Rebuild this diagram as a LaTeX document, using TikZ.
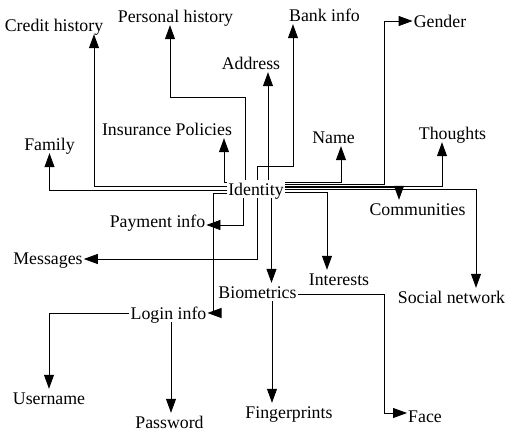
\documentclass[tikz,border=0pt]{standalone}
\usepackage{fontspec}
\setmainfont{Liberation Serif}
\usetikzlibrary{arrows.meta}
\begin{document}
\begin{tikzpicture}[x=1pt,y=-1pt,
  lbl/.style={font=\fontsize{17.8}{20}\selectfont, inner sep=1pt, text height=14pt, text depth=2pt},
  arr/.style={draw, line width=0.8pt, -{Triangle[length=14pt,width=10pt]}}]
\useasboundingbox (0,0) rectangle (512,437);
\node[lbl] (id) at (256,189) {Identity};
\node[lbl] (credit) at (54,25) {Credit history};
\node[lbl] (personal) at (175.5,16) {Personal history};
\node[lbl] (bank) at (324.5,15) {Bank info};
\node[lbl] (gender) at (440,21) {Gender};
\node[lbl] (address) at (251,63) {Address};
\node[lbl] (insurance) at (167,129) {Insurance Policies};
\node[lbl] (family) at (49.5,144) {Family};
\node[lbl] (name) at (333.5,137) {Name};
\node[lbl] (thoughts) at (452.5,133) {Thoughts};
\node[lbl] (communities) at (417.5,209) {Communities};
\node[lbl] (payment) at (157.5,221) {Payment info};
\node[lbl] (messages) at (48,258) {Messages};
\node[lbl] (interests) at (339,279) {Interests};
\node[lbl] (social) at (451.5,297) {Social network};
\node[lbl] (biometrics) at (257.5,292) {Biometrics};
\node[lbl] (login) at (168.5,313) {Login info};
\node[lbl] (username) at (49,398) {Username};
\node[lbl] (password) at (169.5,422) {Password};
\node[lbl] (fingerprints) at (289,412) {Fingerprints};
\node[lbl] (face) at (425,416) {Face};
% left side
\draw[arr] (id.west |- 0,190) -| (family.south);
\draw[arr] (id.west |- 0,186) -| ([xshift=40pt]credit.south);
\draw[arr] (id.west |- 0,182) -| ([xshift=57pt]insurance.south);
\draw[arr] (id.west |- 0,193) -| (213,313) -- (login.east);
% top side
\draw[arr] ([xshift=-11pt]id.north) |- (170,97) -- ([xshift=-5.5pt]personal.south);
\draw[arr] ([xshift=1pt]id.north) |- (293,166) -- ([xshift=-31.5pt]bank.south);
\draw[arr] ([xshift=17pt]address.south |- id.north) -- ([xshift=17pt]address.south);
% right side
\draw[arr] (id.east |- 0,182) -| ([xshift=7.5pt]name.south);
\draw[arr] (id.east |- 0,184) -| (384,21) -- (gender.west);
\draw[arr] (id.east |- 0,186) -| ([xshift=-10.5pt]thoughts.south);
\draw[arr] (id.east |- 0,187.5) -| ([xshift=-18.5pt]communities.north);
\draw[arr] (id.east |- 0,189) -| ([xshift=24.5pt]social.north);
\draw[arr] (id.east |- 0,192) -| ([xshift=-12pt]interests.north);
% bottom side
\draw[arr] ([xshift=-13pt]id.south) |- ([yshift=-4pt]payment.east);
\draw[arr] ([xshift=1pt]id.south) |- ([yshift=-1pt]messages.east);
\draw[arr] ([xshift=14pt]biometrics.north |- id.south) -- ([xshift=14pt]biometrics.north);
% biometrics
\draw[arr] ([xshift=-17pt]fingerprints.north |- biometrics.south) -- ([xshift=-17pt]fingerprints.north);
\draw[arr] ([yshift=-2pt]biometrics.east) -| (384,413) -- ([yshift=3pt]face.west);
% login
\draw[arr] (login.west) -| (username.north);
\draw[arr] ([xshift=1.5pt]password.north |- login.south) -- ([xshift=1.5pt]password.north);
\end{tikzpicture}
\end{document}
